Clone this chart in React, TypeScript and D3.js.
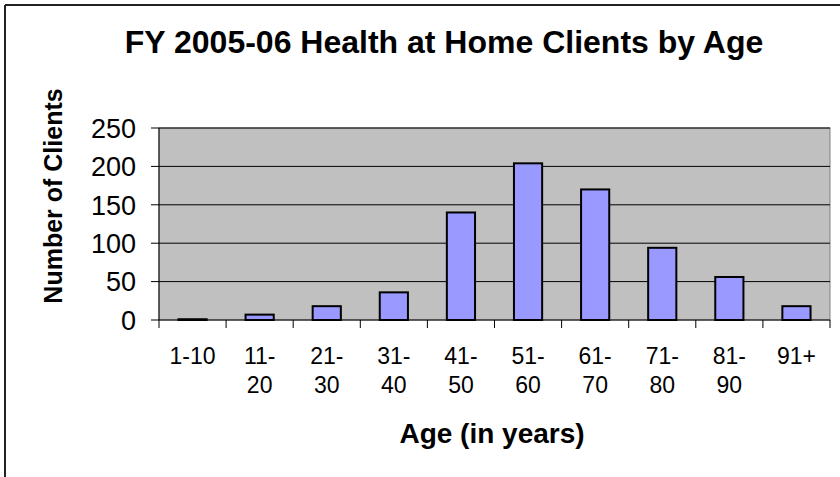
import React from "react";
import * as d3 from "d3";

const categories: string[][] = [
  ["1-10"], ["11-", "20"], ["21-", "30"], ["31-", "40"], ["41-", "50"],
  ["51-", "60"], ["61-", "70"], ["71-", "80"], ["81-", "90"], ["91+"],
];
const clients: number[] = [1, 7, 18, 36, 140, 204, 170, 94, 56, 18];
const yTicks: number[] = [0, 50, 100, 150, 200, 250];

const title = "FY 2005-06 Health at Home Clients by Age";
const yTitle = "Number of Clients";
const xTitle = "Age (in years)";

const W = 840, H = 477;
const plot = { left: 159, right: 830, top: 128, bottom: 320 };
const FONT = "Arial, 'Liberation Sans', sans-serif";

export default function App() {
  const keys = categories.map((c) => c.join(" "));
  const x = d3.scaleBand<string>().domain(keys).range([plot.left, plot.right]).paddingInner(0).paddingOuter(0);
  const y = d3.scaleLinear().domain([0, 250]).range([plot.bottom, plot.top]);
  const bw = x.bandwidth() * 0.42;
  const boundaries = keys.map((k) => x(k) as number).concat([plot.right]);

  return (
    <svg width={W} height={H} style={{ position: "absolute", left: 0, top: 0, display: "block" }} fontFamily={FONT}>
      <rect x={0} y={0} width={W} height={H} fill="#fff" />
      {/* outer frame */}
      <line x1={5} y1={5} x2={W} y2={5} stroke="#222" strokeWidth={2} />
      <line x1={5} y1={5} x2={5} y2={H} stroke="#222" strokeWidth={2} />

      <text x={444} y={53} textAnchor="middle" fontSize={32} fontWeight="bold" fill="#000">{title}</text>

      {/* plot area */}
      <rect x={plot.left} y={plot.top} width={plot.right - plot.left} height={plot.bottom - plot.top} fill="#c0c0c0" stroke="#808080" strokeWidth={1} />
      {yTicks.map((t) => (
        <g key={t}>
          {t > 0 && <line x1={plot.left} x2={plot.right} y1={y(t)} y2={y(t)} stroke="#000" strokeWidth={1} />}
          <line x1={plot.left - 8} x2={plot.left} y1={y(t)} y2={y(t)} stroke="#000" strokeWidth={1} />
          <text x={136} y={y(t)} dy="0.36em" textAnchor="end" fontSize={27} fill="#000">{t}</text>
        </g>
      ))}

      {clients.map((v, i) => {
        const cx = (x(keys[i]) as number) + x.bandwidth() / 2;
        return (
          <rect key={i} x={cx - bw / 2} y={y(v)} width={bw} height={y(0) - y(v)} fill="#9999ff" stroke="#000" strokeWidth={2} />
        );
      })}

      <line x1={plot.left} x2={plot.left} y1={plot.top} y2={plot.bottom} stroke="#000" strokeWidth={1} />
      <line x1={plot.left} x2={plot.right} y1={plot.bottom} y2={plot.bottom} stroke="#000" strokeWidth={1} />
      {boundaries.map((b, i) => (
        <line key={i} x1={b} x2={b} y1={plot.bottom} y2={plot.bottom + 8} stroke="#000" strokeWidth={1} />
      ))}

      {categories.map((lines, i) => {
        const cx = (x(keys[i]) as number) + x.bandwidth() / 2;
        return (
          <text key={i} x={cx} y={364} textAnchor="middle" fontSize={23} fill="#000">
            {lines.map((l, j) => (
              <tspan key={j} x={cx} dy={j === 0 ? 0 : 29}>{l}</tspan>
            ))}
          </text>
        );
      })}

      <text x={492} y={443} textAnchor="middle" fontSize={28} fontWeight="bold" fill="#000">{xTitle}</text>
      <text transform={`translate(62,196) rotate(-90)`} textAnchor="middle" fontSize={25} fontWeight="bold" fill="#000">{yTitle}</text>
    </svg>
  );
}
